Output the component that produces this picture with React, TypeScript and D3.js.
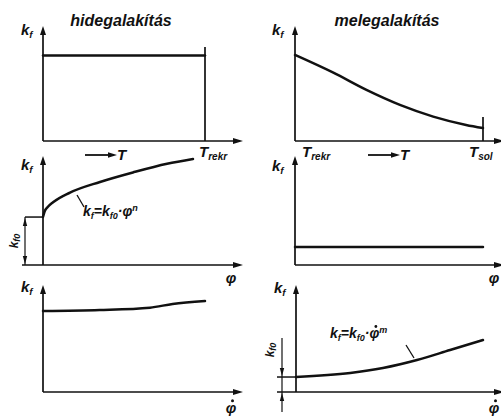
import React, { useLayoutEffect, useRef, useState } from 'react';
import * as d3 from 'd3';

// Flow stress k_f curves for cold and hot forming (normalised units)
const titles = ['hidegalakítás', 'melegalakítás'];

// k_f vs temperature T
const coldT = [0, 1];
const coldTKf = [0.77, 0.77];
const hotT = [0, 0.204, 0.38, 0.558, 0.735, 0.91, 1];
const hotTKf = [0.775, 0.615, 0.46, 0.325, 0.22, 0.145, 0.117];

// k_f vs strain φ
const coldPhi = [0, 0.01, 0.03, 0.067, 0.18, 0.38, 0.6, 0.827, 1];
const coldPhiKf = [0.432, 0.48, 0.52, 0.565, 0.652, 0.748, 0.834, 0.912, 0.955];
const hotPhi = [0, 1];
const hotPhiKf = [0.162, 0.162];

// k_f vs strain rate φ̇
const coldRate = [0, 0.35, 0.66, 0.8, 1];
const coldRateKf = [0.73, 0.739, 0.76, 0.793, 0.82];
const hotRate = [0, 0.29, 0.465, 0.647, 0.824, 1];
const hotRateKf = [0.135, 0.171, 0.216, 0.288, 0.378, 0.468];

const FONT = '"Liberation Sans", Arial, sans-serif';
const INK = '#111';

type PanelDef = {
  x0: number; xEnd: number; y0: number; axisStart?: number; axisEnd: number; yTip: number;
  xs: number[]; ys: number[];
};

const panels: PanelDef[] = [
  { x0: 43, xEnd: 205, y0: 141, axisEnd: 243, yTip: 26, xs: coldT, ys: coldTKf },
  { x0: 295, xEnd: 483, y0: 141, axisEnd: 504, yTip: 26, xs: hotT, ys: hotTKf },
  { x0: 43, xEnd: 193, y0: 265, axisStart: 22, axisEnd: 243, yTip: 156, xs: coldPhi, ys: coldPhiKf },
  { x0: 295, xEnd: 483, y0: 265, axisEnd: 504, yTip: 156, xs: hotPhi, ys: hotPhiKf },
  { x0: 43, xEnd: 205, y0: 392, axisEnd: 243, yTip: 285, xs: coldRate, ys: coldRateKf },
  { x0: 296, xEnd: 483, y0: 392, axisStart: 277, axisEnd: 504, yTip: 285, xs: hotRate, ys: hotRateKf },
];

const scalesFor = (p: PanelDef) => ({
  x: d3.scaleLinear().domain([0, 1]).range([p.x0, p.xEnd]),
  y: d3.scaleLinear().domain([0, 1]).range([p.y0, p.y0 - 111]),
});

const arrowUp = (x: number, y: number, l = 9, w = 3) => `M${x},${y}L${x - w},${y + l}L${x + w},${y + l}Z`;
const arrowDown = (x: number, y: number, l = 9, w = 3) => `M${x},${y}L${x - w},${y - l}L${x + w},${y - l}Z`;
const arrowRight = (x: number, y: number, l = 10, w = 3) => `M${x},${y}L${x - l},${y - w}L${x - l},${y + w}Z`;

const textProps = {
  fontFamily: FONT, fontStyle: 'italic' as const, fontWeight: 'bold' as const, fill: INK,
};

const Kf = ({ x, y, size = 15 }: { x: number; y: number; size?: number }) => (
  <text x={x} y={y} fontSize={size} {...textProps}>
    k<tspan dy={3} fontSize={size * 0.65}>f</tspan>
  </text>
);

// φ with a dot above (strain rate)
const PhiDot = ({ x, y, size = 15 }: { x: number; y: number; size?: number }) => (
  <g>
    <text x={x} y={y} textAnchor="middle" fontSize={size} {...textProps}>φ</text>
    <circle cx={x + 1.5} cy={y - size * 0.82} r={1.5} fill={INK} />
  </g>
);

// Formula text; when `dotOnPhi` is set a dot is placed over the φ glyph
const Formula = ({ x, y, dotOnPhi, children }: { x: number; y: number; dotOnPhi?: boolean; children: React.ReactNode }) => {
  const ref = useRef<SVGTextElement>(null);
  const [dot, setDot] = useState<{ cx: number; cy: number } | null>(null);
  useLayoutEffect(() => {
    if (!dotOnPhi || !ref.current) return;
    const el = ref.current;
    const idx = (el.textContent ?? '').indexOf('φ');
    if (idx < 0) return;
    try {
      const ext = el.getExtentOfChar(idx);
      setDot({ cx: ext.x + ext.width / 2 + 1.5, cy: ext.y + 1.5 });
    } catch {
      /* ignore */
    }
  }, [dotOnPhi]);
  return (
    <g>
      <text ref={ref} x={x} y={y} fontSize={14} {...textProps}>{children}</text>
      {dot && <circle cx={dot.cx} cy={dot.cy} r={1.4} fill={INK} />}
    </g>
  );
};

const Panel = ({ p }: { p: PanelDef }) => {
  const { x, y } = scalesFor(p);
  const line = d3.line<number>()
    .x((_, i) => x(p.xs[i]))
    .y((d) => y(d))
    .curve(d3.curveMonotoneX);
  return (
    <g>
      <line x1={p.x0} y1={p.y0} x2={p.x0} y2={p.yTip + 6} stroke={INK} strokeWidth={1.7} />
      <path d={arrowUp(p.x0, p.yTip)} fill={INK} />
      <line x1={p.axisStart ?? p.x0} y1={p.y0} x2={p.axisEnd - 6} y2={p.y0} stroke={INK} strokeWidth={1.7} />
      <path d={arrowRight(p.axisEnd, p.y0)} fill={INK} />
      <path d={line(p.ys) ?? ''} fill="none" stroke={INK} strokeWidth={2.5} strokeLinecap="round" />
    </g>
  );
};

export default function App() {
  const [tl, tr, ml, , , br] = panels;
  const sTL = scalesFor(tl);
  const sTR = scalesFor(tr);
  const sML = scalesFor(ml);
  const sBR = scalesFor(br);
  const mlStart = sML.y(coldPhiKf[0]);
  const brStart = sBR.y(hotRateKf[0]);
  return (
    <svg width={501} height={418} style={{ position: 'absolute', left: 0, top: 0, background: '#fff' }}>
      <rect width={501} height={418} fill="#fff" />
      {panels.map((p, i) => <Panel key={i} p={p} />)}

      {/* titles */}
      <text x={121} y={26} textAnchor="middle" fontSize={16} {...textProps}>{titles[0]}</text>
      <text x={387} y={26} textAnchor="middle" fontSize={16} {...textProps}>{titles[1]}</text>

      {/* k_f axis labels */}
      <Kf x={21} y={35} />
      <Kf x={272} y={35} />
      <Kf x={21} y={170} />
      <Kf x={272} y={171} />
      <Kf x={21} y={292} />
      <Kf x={274} y={293} />

      {/* recrystallisation / solidus markers on the T axes */}
      <line x1={sTL.x(1)} y1={47} x2={sTL.x(1)} y2={tl.y0} stroke={INK} strokeWidth={1.7} />
      <line x1={sTR.x(1)} y1={117} x2={sTR.x(1)} y2={tr.y0} stroke={INK} strokeWidth={1.7} />

      {/* T axis captions */}
      <line x1={85} y1={155} x2={110} y2={155} stroke={INK} strokeWidth={1.8} />
      <path d={arrowRight(117, 155, 9, 2.7)} fill={INK} />
      <text x={117} y={160} fontSize={15} {...textProps}>T</text>
      <text x={199} y={157} fontSize={15} {...textProps}>T<tspan dy={3} fontSize={10}>rekr</tspan></text>

      <text x={302} y={157} fontSize={15} {...textProps}>T<tspan dy={3} fontSize={10}>rekr</tspan></text>
      <line x1={368} y1={155} x2={393} y2={155} stroke={INK} strokeWidth={1.8} />
      <path d={arrowRight(400, 155, 9, 2.7)} fill={INK} />
      <text x={400} y={160} fontSize={15} {...textProps}>T</text>
      <text x={469} y={157} fontSize={15} {...textProps}>T<tspan dy={3} fontSize={10}>sol</tspan></text>

      {/* strain / strain-rate axis captions */}
      <text x={231} y={283} textAnchor="middle" fontSize={15} {...textProps}>φ</text>
      <text x={494} y={283} textAnchor="middle" fontSize={15} {...textProps}>φ</text>
      <PhiDot x={231} y={413} />
      <PhiDot x={494} y={413} />

      {/* cold forming: initial flow stress dimension */}
      <line x1={25} y1={mlStart} x2={ml.x0} y2={mlStart} stroke={INK} strokeWidth={1.5} />
      <line x1={25} y1={mlStart} x2={25} y2={ml.y0} stroke={INK} strokeWidth={1.2} />
      <path d={arrowUp(25, mlStart + 1, 8, 2.2)} fill={INK} />
      <path d={arrowDown(25, ml.y0 - 1, 8, 2.2)} fill={INK} />
      <text transform={`translate(18,${(mlStart + ml.y0) / 2}) rotate(-90)`} textAnchor="middle" fontSize={12} {...textProps}>
        k<tspan dy={2} fontSize={9}>f0</tspan>
      </text>

      {/* cold forming strain hardening law */}
      <line x1={77} y1={195} x2={84} y2={207} stroke={INK} strokeWidth={1.3} />
      <Formula x={83} y={216}>
        k<tspan dy={3} fontSize={9}>f</tspan><tspan dy={-3}>=k</tspan><tspan dy={3} fontSize={9}>f0</tspan><tspan dy={-3}>·φ</tspan><tspan dy={-5} fontSize={9}>n</tspan>
      </Formula>

      {/* hot forming: initial flow stress dimension */}
      <line x1={277} y1={brStart} x2={br.x0} y2={brStart} stroke={INK} strokeWidth={1.5} />
      <line x1={282} y1={338} x2={282} y2={412} stroke={INK} strokeWidth={1.2} />
      <path d={arrowDown(282, brStart - 1, 8, 2.2)} fill={INK} />
      <path d={arrowUp(282, br.y0 + 1, 8, 2.2)} fill={INK} />
      <text transform={`translate(274,350) rotate(-90)`} textAnchor="middle" fontSize={12} {...textProps}>
        k<tspan dy={2} fontSize={9}>f0</tspan>
      </text>

      {/* hot forming strain-rate law */}
      <line x1={406} y1={345} x2={414} y2={358} stroke={INK} strokeWidth={1.3} />
      <Formula x={330} y={338} dotOnPhi>
        k<tspan dy={3} fontSize={9}>f</tspan><tspan dy={-3}>=k</tspan><tspan dy={3} fontSize={9}>f0</tspan><tspan dy={-3}>·φ</tspan><tspan dy={-5} fontSize={9}>m</tspan>
      </Formula>
    </svg>
  );
}
